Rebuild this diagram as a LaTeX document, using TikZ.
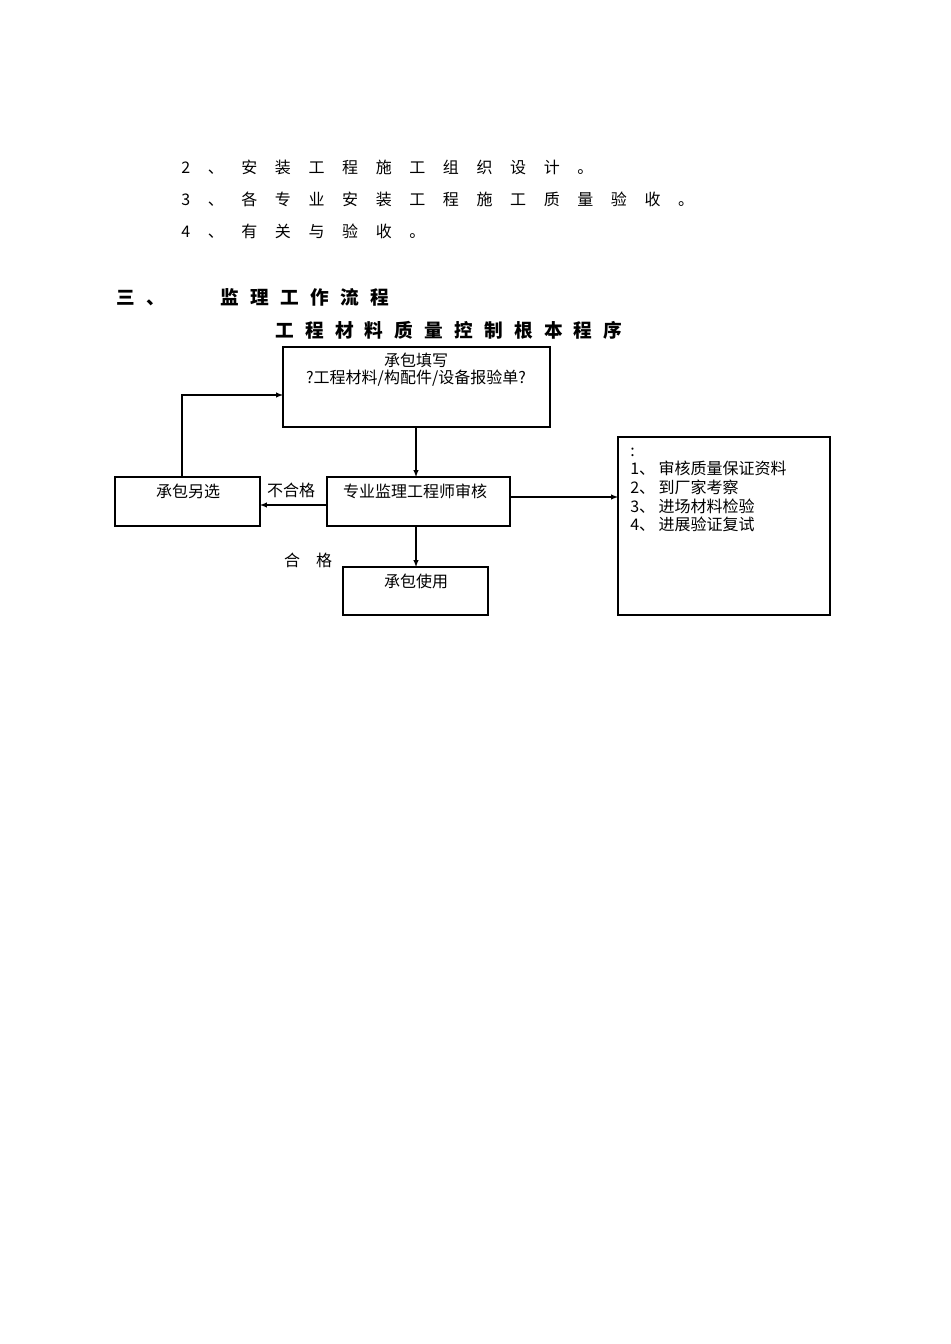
\documentclass[tikz,border=0pt]{standalone}
\usepackage{fontspec}
\setmainfont{Liberation Serif}
\newfontfamily\cjk{Noto Sans CJK SC}
\begin{document}
\begin{tikzpicture}[x=0.75pt,y=-0.75pt,
  txt/.style={font=\cjk\fontsize{12}{14}\selectfont,inner sep=0pt},
  bx/.style={draw,line width=0.8pt},
  arr/.style={-latex,line width=0.8pt}]
\useasboundingbox (0,0) rectangle (950,1344);
\node[txt,anchor=west] (l2) at (181,167) {2\hspace{1.1em}、\hspace{1.1em}安\hspace{1.1em}装\hspace{1.1em}工\hspace{1.1em}程\hspace{1.1em}施\hspace{1.1em}工\hspace{1.1em}组\hspace{1.1em}织\hspace{1.1em}设\hspace{1.1em}计\hspace{1.1em}。};
\node[txt,anchor=west] (l3) at (181,199) {3\hspace{1.1em}、\hspace{1.1em}各\hspace{1.1em}专\hspace{1.1em}业\hspace{1.1em}安\hspace{1.1em}装\hspace{1.1em}工\hspace{1.1em}程\hspace{1.1em}施\hspace{1.1em}工\hspace{1.1em}质\hspace{1.1em}量\hspace{1.1em}验\hspace{1.1em}收\hspace{1.1em}。};
\node[txt,anchor=west] (l4) at (181,231) {4\hspace{1.1em}、\hspace{1.1em}有\hspace{1.1em}关\hspace{1.1em}与\hspace{1.1em}验\hspace{1.1em}收\hspace{1.1em}。};
\node[txt,anchor=west,font=\cjk\bfseries\fontsize{14}{16}\selectfont] (h3) at (116,297) {三\hspace{0.6em}、\hspace{3em}监\hspace{0.6em}理\hspace{0.6em}工\hspace{0.6em}作\hspace{0.6em}流\hspace{0.6em}程};
\node[txt,anchor=west,font=\cjk\bfseries\fontsize{14}{16}\selectfont] (tt) at (275,330) {工\hspace{0.6em}程\hspace{0.6em}材\hspace{0.6em}料\hspace{0.6em}质\hspace{0.6em}量\hspace{0.6em}控\hspace{0.6em}制\hspace{0.6em}根\hspace{0.6em}本\hspace{0.6em}程\hspace{0.6em}序};
% boxes
\draw[bx] (283,347) rectangle (550,427);
\coordinate (A) at (416,387);
\node[txt] (a1) at (416,360) {承包填写};
\node[txt] (a2) at (416,378) {?工程材料/构配件/设备报验单?};
\draw[bx] (327,477) rectangle (510,526);
\node[txt] (b1) at (415,491) {专业监理工程师审核};
\draw[bx] (115,477) rectangle (260,526);
\node[txt] (c1) at (188,491) {承包另选};
\draw[bx] (343,567) rectangle (488,615);
\node[txt] (d1) at (416,581) {承包使用};
\draw[bx] (618,437) rectangle (830,615);
\node[txt,anchor=west] (e0) at (630,452) {:};
\node[txt,anchor=west] (e1) at (630,468) {1、 审核质量保证资料};
\node[txt,anchor=west] (e2) at (630,487) {2、 到厂家考察};
\node[txt,anchor=west] (e3) at (630,506) {3、 进场材料检验};
\node[txt,anchor=west] (e4) at (630,524) {4、 进展验证复试};
% connectors
\coordinate (aB) at (416,427); \coordinate (bT) at (416,477);
\coordinate (bL) at (327,505); \coordinate (cR) at (260,505);
\coordinate (cT) at (182,477); \coordinate (cU) at (182,395); \coordinate (aL) at (283,395);
\coordinate (bB) at (416,526); \coordinate (dT) at (416,567);
\coordinate (bR) at (510,497); \coordinate (eL) at (618,497);
\draw[arr] (aB) -- (bT);
\draw[arr] (bL) -- (cR);
\draw[arr] (cT) -- (cU) -- (aL);
\draw[arr] (bB) -- (dT);
\draw[arr] (bR) -- (eL);
\node[txt] (ng) at (291,490) {不合格};
\node[txt] (ok) at (308,560) {合\hspace{1em}格};
\end{tikzpicture}
\end{document}
